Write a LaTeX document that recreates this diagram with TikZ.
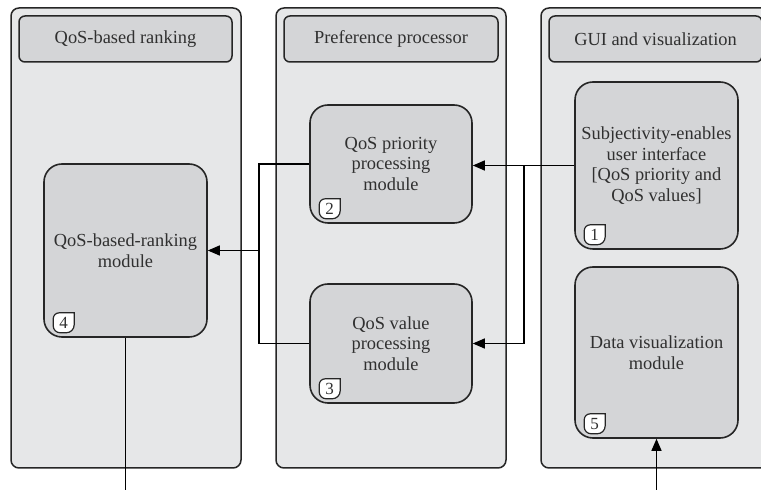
\documentclass[tikz,border=0pt]{standalone}
\usepackage{fontspec}
\setmainfont{Liberation Serif}
\usetikzlibrary{calc,arrows.meta}

\definecolor{panelfill}{HTML}{E6E7E8}
\definecolor{modfill}{HTML}{D4D5D7}
\definecolor{edge}{HTML}{262626}
\definecolor{ink}{HTML}{303030}

\tikzset{
  panel/.style={draw=edge, line width=1.5pt, fill=panelfill, rounded corners=8pt},
  header/.style={draw=edge, line width=1.5pt, fill=modfill, rounded corners=6pt,
    minimum height=46pt, inner sep=0pt, text=ink,
    font=\fontsize{18.4}{20.5}\selectfont},
  module/.style={draw=edge, line width=1.6pt, fill=modfill, rounded corners=18pt,
    minimum width=163pt, inner sep=0pt, align=center, text=ink,
    font=\fontsize{18.4}{20.5}\selectfont},
  badgeshape/.style={draw=edge, line width=1.2pt, fill=white},
  badgenum/.style={inner sep=0pt, text=ink, font=\fontsize{17}{17}\selectfont},
  link/.style={draw=black, line width=1.3pt},
  flow/.style={link, -{Triangle[length=12pt,width=10pt]}}
}

% numbered tag in the lower-left corner of a module
\newcommand\modbadge[3]{%
  \begin{scope}[shift={($(#1.south west)+(10,5)$)}]
    \draw[badgeshape] (21,20) -- (6,20) arc[start angle=90,end angle=180,radius=6]
      -- (0,7) arc[start angle=180,end angle=270,radius=7]
      -- (13,0) arc[start angle=270,end angle=360,radius=8] -- cycle;
    \node[badgenum] (#2) at (10.5,10) {#3};
  \end{scope}}

\begin{document}
\begin{tikzpicture}[x=1pt,y=1pt]
  \clip (0,0) rectangle (761,490);

  % three swimlane panels
  \draw[panel] (11,22) rectangle (241,482);
  \draw[panel] (276,22) rectangle (506,482);
  \draw[panel] (541,22) rectangle (771,482);

  % panel titles
  \node[header, minimum width=213pt] (h1) at (125.5,451) {QoS-based ranking};
  \node[header, minimum width=214pt] (h2) at (391,451) {Preference processor};
  \node[header, minimum width=213pt] (h3) at (655.5,451) {GUI and visualization};

  % modules
  \node[module, minimum height=173pt] (m4) at (125.5,239.5) {QoS-based-ranking\\module};
  \node[module, minimum width=162pt, minimum height=118pt] (m2) at (391,326) {QoS priority\\processing\\module};
  \node[module, minimum width=162pt, minimum height=119pt] (m3) at (391,146.5) {QoS value\\processing\\module};
  \node[module, minimum height=167pt] (m1) at (656.5,324.5) {Subjectivity-enables\\user interface\\{}[QoS priority and\\QoS values]};
  \node[module, minimum height=171pt] (m5) at (656.5,137.5) {Data visualization\\module};

  \modbadge{m1}{b1}{1}
  \modbadge{m2}{b2}{2}
  \modbadge{m3}{b3}{3}
  \modbadge{m4}{b4}{4}
  \modbadge{m5}{b5}{5}

  % routing points
  \coordinate (fork) at (524,0);
  \coordinate (bus) at (259,0);
  \coordinate (rankout) at (m4.south |- 0,0);
  \coordinate (datain) at (m5.south |- 0,0);

  % user interface feeds both preference modules
  \draw[flow] (m1.west) -- (m1.west -| m2.east);
  \draw[flow] (fork |- m1.west) |- (m3.east);

  % preference modules feed the ranking module
  \draw[link] (m2.west) -| (bus |- m3.west) -- (m3.west);
  \draw[flow] (bus |- m4.east) -- (m4.east);

  % external input and output
  \draw[link] (m4.south) -- (rankout);
  \draw[flow] (datain) -- (m5.south);
\end{tikzpicture}
\end{document}
